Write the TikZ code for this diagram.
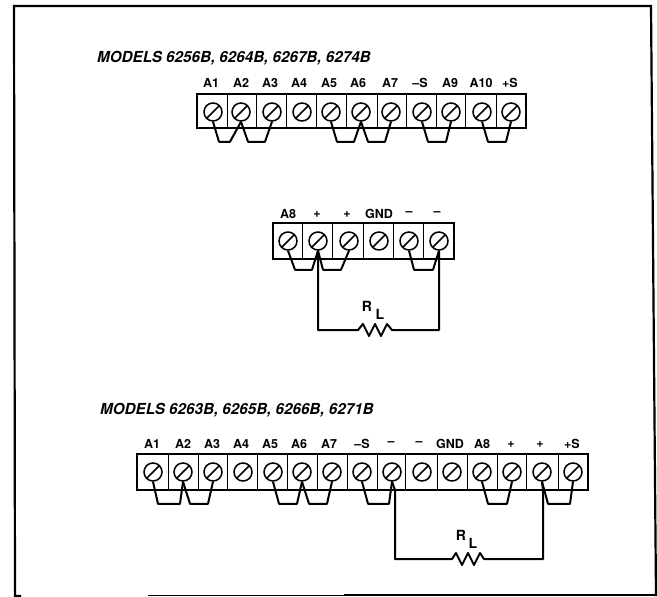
\documentclass[tikz,border=0pt]{standalone}
\usepackage{fontspec}
\setmainfont{TeX Gyre Heros}
\begin{document}
\begin{tikzpicture}[x=1pt,y=-1pt,
  screw/.style={circle,draw,line width=1.5pt,minimum size=18pt,inner sep=0pt,
    path picture={\draw[line width=1.5pt] (path picture bounding box.south west) -- (path picture bounding box.north east);}},
  term/.style={font=\bfseries\fontsize{12.5}{13}\selectfont,inner sep=0pt},
  model/.style={font=\bfseries\itshape\fontsize{15.2}{16}\selectfont,inner sep=0pt,anchor=west},
  wire/.style={line width=2pt,line join=round},
  rlabel/.style={font=\bfseries\fontsize{14}{14}\selectfont,inner sep=0pt},
  block/.style={line width=1.5pt}]
\useasboundingbox (0,0) rectangle (657,597);

% frame
\draw[line width=2.2pt] (21,596) -- (15,596) -- (14,6) -- (651,6) -- (656,596);
\draw[line width=1pt] (148,595.5) -- (344,595.5);
\draw[line width=1.8pt] (344,595) -- (657,595);

% first model group
\node[model] (title1) at (97,58) {MODELS 6256B, 6264B, 6267B, 6274B};
\draw[block] (197,94) rectangle (526,128);
\draw (227,94) -- (227,128);
\draw (256,94) -- (256,128);
\draw (286,94) -- (286,128);
\draw (316,94) -- (316,128);
\draw (346,94) -- (346,128);
\draw (377,94) -- (377,128);
\draw (406,94) -- (406,128);
\draw (436,94) -- (436,128);
\draw (465,94) -- (465,128);
\draw (496,94) -- (496,128);

\node[screw] (a1) at (213,112) {};
\node[screw] (a2) at (241,112) {};
\node[screw] (a3) at (272,112) {};
\node[screw] (a4) at (302,112) {};
\node[screw] (a5) at (331,112) {};
\node[screw] (a6) at (361,112) {};
\node[screw] (a7) at (391,112) {};
\node[screw] (a8) at (422,112) {};
\node[screw] (a9) at (451,112) {};
\node[screw] (a10) at (482,112) {};
\node[screw] (a11) at (511,112) {};

\node[term] (la1) at (211,83) {A1};
\node[term] (la2) at (241,83) {A2};
\node[term] (la3) at (270,83) {A3};
\node[term] (la4) at (299,83) {A4};
\node[term] (la5) at (329,83) {A5};
\node[term] (la6) at (358,83) {A6};
\node[term] (la7) at (390,83) {A7};
\node[term] (la8) at (420,83) {–S};
\node[term] (la9) at (450,83) {A9};
\node[term] (la10) at (481,83) {A10};
\node[term] (la11) at (510,83) {+S};

\draw[wire] (a1.south) -- ++(6,20) -- ++(11,0) -- (a2.south);
\draw[wire] (a2.south) -- ++(7,20) -- ++(17,0) -- (a3.south);
\draw[wire] (a5.south) -- ++(6,20) -- ++(17,0) -- (a6.south);
\draw[wire] (a6.south) -- ++(7,20) -- ++(17,0) -- (a7.south);
\draw[wire] (a8.south) -- ++(6,20) -- ++(18,0) -- (a9.south);
\draw[wire] (a10.south) -- ++(6,20) -- ++(18,0) -- (a11.south);

% second block with load
\draw[block] (273,223) rectangle (454,259);
\draw (302,223) -- (302,259);
\draw (332,223) -- (332,259);
\draw (363,223) -- (363,259);
\draw (393,223) -- (393,259);
\draw (423,223) -- (423,259);

\node[screw] (b1) at (288,241) {};
\node[screw] (b2) at (318,241) {};
\node[screw] (b3) at (349,241) {};
\node[screw] (b4) at (379,241) {};
\node[screw] (b5) at (409,241) {};
\node[screw] (b6) at (439,241) {};

\node[term] (lb1) at (288,214) {A8};
\node[term] (lb2) at (317,214) {+};
\node[term] (lb3) at (347,214) {+};
\node[term] (lb4) at (379,214) {GND};
\node[term] (lb5) at (409,214) {–};
\node[term] (lb6) at (437,214) {–};

\draw[wire] (b1.south) -- ++(7,19) -- ++(17,0) -- (b2.south);
\draw[wire] (b2.south) -- ++(5,19) -- ++(18,0) -- (b3.south);
\draw[wire] (b5.south) -- ++(5,19) -- ++(19,0) -- (b6.south);

\coordinate (r1a) at (358,330);
\coordinate (r1b) at (392,330);
\draw[wire] (b2.south) -- (318,330) -- (r1a) -- ++(5,-6) -- ++(6,12) -- ++(6,-12) -- ++(6,12) -- ++(6,-12) -- (r1b) -- (439,330) -- (b6.south);
\node[rlabel] (rl1) at (367,306) {R};
\node[rlabel] (rl1s) at (380,314) {L};

% second model group
\node[model] (title2) at (100,410) {MODELS 6263B, 6265B, 6266B, 6271B};
\draw[block] (137,454) rectangle (588,490);
\draw (168,454) -- (168,490);
\draw (198,454) -- (198,490);
\draw (227,454) -- (227,490);
\draw (257,454) -- (257,490);
\draw (287,454) -- (287,490);
\draw (317,454) -- (317,490);
\draw (347,454) -- (347,490);
\draw (377,454) -- (377,490);
\draw (405,454) -- (405,490);
\draw (437,454) -- (437,490);
\draw (467,454) -- (467,490);
\draw (497,454) -- (497,490);
\draw (526,454) -- (526,490);
\draw (558,454) -- (558,490);

\node[screw] (c1) at (153,472) {};
\node[screw] (c2) at (183,472) {};
\node[screw] (c3) at (213,472) {};
\node[screw] (c4) at (243,472) {};
\node[screw] (c5) at (273,472) {};
\node[screw] (c6) at (302,472) {};
\node[screw] (c7) at (332,472) {};
\node[screw] (c8) at (362,472) {};
\node[screw] (c9) at (392,472) {};
\node[screw] (c10) at (422,472) {};
\node[screw] (c11) at (452,472) {};
\node[screw] (c12) at (482,472) {};
\node[screw] (c13) at (512,472) {};
\node[screw] (c14) at (542,472) {};
\node[screw] (c15) at (573,472) {};

\node[term] (lc1) at (152,444) {A1};
\node[term] (lc2) at (183,444) {A2};
\node[term] (lc3) at (212,444) {A3};
\node[term] (lc4) at (241,444) {A4};
\node[term] (lc5) at (270,444) {A5};
\node[term] (lc6) at (299,444) {A6};
\node[term] (lc7) at (329,444) {A7};
\node[term] (lc8) at (362,444) {–S};
\node[term] (lc9) at (391,444) {–};
\node[term] (lc10) at (419,444) {–};
\node[term] (lc11) at (450,444) {GND};
\node[term] (lc12) at (482,444) {A8};
\node[term] (lc13) at (511,444) {+};
\node[term] (lc14) at (540,444) {+};
\node[term] (lc15) at (572,444) {+S};

\draw[wire] (c1.south) -- ++(5,22) -- ++(22,0) -- (c2.south);
\draw[wire] (c2.south) -- ++(7,22) -- ++(18,0) -- (c3.south);
\draw[wire] (c5.south) -- ++(6,22) -- ++(18,0) -- (c6.south);
\draw[wire] (c6.south) -- ++(7,22) -- ++(18,0) -- (c7.south);
\draw[wire] (c8.south) -- ++(6,22) -- ++(21,0) -- (c9.south);
\draw[wire] (c12.south) -- ++(6,22) -- ++(19,0) -- (c13.south);
\draw[wire] (c14.south) -- ++(6,22) -- ++(22,0) -- (c15.south);

\coordinate (r2a) at (452,559);
\coordinate (r2b) at (484,559);
\draw[wire] (c9.south) -- (395,490) -- (395,559) -- (r2a) -- ++(4,-6) -- ++(6,12) -- ++(6,-12) -- ++(6,12) -- ++(6,-12) -- (r2b) -- (543,559) -- (543,490) -- (c14.south);
\node[rlabel] (rl2) at (461,535) {R};
\node[rlabel] (rl2s) at (473,543) {L};
\end{tikzpicture}
\end{document}
